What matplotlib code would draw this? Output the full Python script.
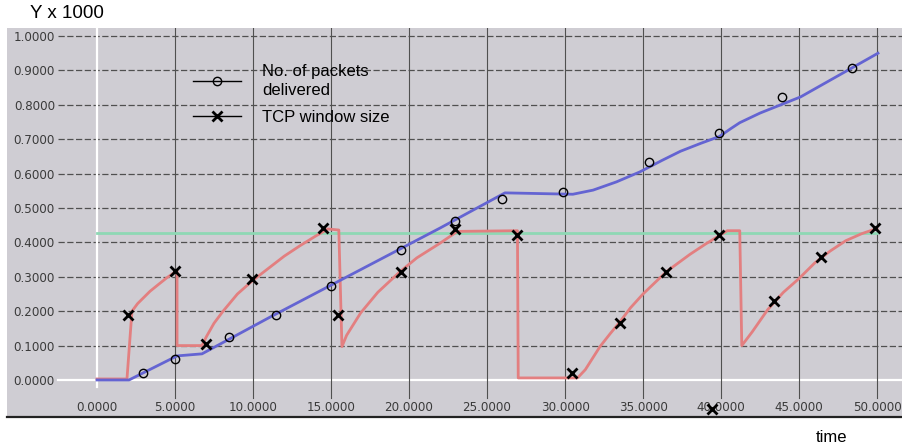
import matplotlib
matplotlib.use("Agg")
import matplotlib.pyplot as plt
from matplotlib.lines import Line2D

plt.rcParams['font.family'] = ['Liberation Sans', 'DejaVu Sans']

# packets delivered (line path)
delivered_t = [0.0, 2.05, 5.13, 6.73, 11.1, 22.0, 26.15, 30.5, 31.8, 33.3, 34.8, 36.2, 37.4,
               38.7, 39.9, 40.6, 41.2, 42.5, 45.1, 47.6, 50.06]
delivered_y = [0.0, 0.0, 0.07, 0.076, 0.183, 0.442, 0.544, 0.54, 0.552, 0.576, 0.605, 0.638, 0.665,
               0.688, 0.708, 0.73, 0.748, 0.776, 0.823, 0.887, 0.95]
# packets delivered (sample markers)
delivered_mark_t = [2.95, 5.0, 8.46, 11.5, 15.0, 19.5, 22.95, 25.96, 29.9, 35.4, 39.9, 43.9, 48.4]
delivered_mark_y = [0.02, 0.061, 0.125, 0.189, 0.273, 0.378, 0.462, 0.526, 0.547, 0.633, 0.717, 0.823, 0.907]

# TCP window size (line path)
window_t = [0.0, 1.92, 2.24, 2.6, 3.0, 3.4, 4.0, 4.5, 5.13,
            5.13, 6.73, 7.0, 7.5, 8.08, 9.0, 10.0, 11.0, 12.0, 13.0, 14.0, 14.8, 15.5,
            15.7, 16.0, 16.9, 18.0, 19.4, 20.5, 22.0, 23.1, 26.95,
            27.0, 30.8, 31.3, 32.24, 32.9, 33.5, 34.2, 35.0, 36.5, 38.0, 39.0, 39.9, 40.4, 41.2,
            41.33, 42.0, 43.0, 44.0, 45.0, 46.0, 47.0, 48.0, 49.0, 49.7, 50.0]
window_y = [0.003, 0.003, 0.2, 0.222, 0.24, 0.258, 0.28, 0.298, 0.318,
            0.1, 0.1, 0.125, 0.165, 0.2, 0.25, 0.29, 0.325, 0.36, 0.39, 0.418, 0.439, 0.436,
            0.097, 0.13, 0.195, 0.255, 0.314, 0.355, 0.398, 0.432, 0.434,
            0.006, 0.006, 0.03, 0.097, 0.135, 0.168, 0.21, 0.25, 0.315, 0.365, 0.395, 0.42, 0.434, 0.434,
            0.1, 0.14, 0.205, 0.255, 0.295, 0.34, 0.375, 0.405, 0.425, 0.436, 0.44]
# TCP window size (sample markers)
window_mark_t = [1.99, 5.0, 6.99, 9.94, 14.5, 15.45, 19.5, 22.95, 26.9, 30.45, 33.5, 36.5,
                 39.9, 39.4, 43.4, 46.4, 49.9]
window_mark_y = [0.189, 0.317, 0.105, 0.294, 0.442, 0.189, 0.314, 0.439, 0.421, 0.02, 0.167, 0.315,
                 0.421, -0.085, 0.23, 0.358, 0.442]

threshold_t = [0.0, 50.0]
threshold_y = [0.427, 0.427]

x_ticks = [0, 5, 10, 15, 20, 25, 30, 35, 40, 45, 50]
y_ticks = [0.0, 0.1, 0.2, 0.3, 0.4, 0.5, 0.6, 0.7, 0.8, 0.9, 1.0]

fig = plt.figure(figsize=(9.02, 4.46), dpi=100)
ax = fig.add_axes([7 / 902, 29 / 446, 895 / 902, 389 / 446])
ax.set_facecolor('#cfcdd3')
ax.set_xlim(-5.77, 51.6)
ax.set_ylim(-0.1076, 1.0233)

for s in ['left', 'right', 'top']:
    ax.spines[s].set_visible(False)
ax.spines['bottom'].set_color('#222222')
ax.spines['bottom'].set_linewidth(1.6)

# grid: dashed horizontals, solid verticals, white zero lines
for y in y_ticks:
    if y == 0:
        ax.axhline(y, xmin=0.057, xmax=1, color='white', lw=1.6, zorder=1)
    else:
        ax.axhline(y, xmin=0.057, xmax=1, color='#505050', lw=0.9, ls=(0, (5, 2)), zorder=1)
for x in x_ticks:
    if x == 0:
        ax.axvline(x, ymin=0.077, ymax=1, color='white', lw=1.6, zorder=1)
    else:
        ax.axvline(x, ymin=0.049, ymax=1, color='#505050', lw=0.8, zorder=1)

ax.set_xticks(x_ticks)
ax.set_xticklabels([f'{v:.4f}' for v in x_ticks])
ax.set_yticks(y_ticks)
ax.set_yticklabels([f'{v:.4f}' for v in y_ticks])
ax.tick_params(axis='both', length=0, labelsize=8.6, labelcolor='#3a3a3a')
ax.tick_params(axis='y', pad=-34.5)
ax.tick_params(axis='x', pad=-6.5)
for lab in ax.get_xticklabels() + ax.get_yticklabels():
    lab.set_family('DejaVu Sans')
for lab in ax.get_xticklabels():
    lab.set_va('center')

ax.plot(threshold_t, threshold_y, color='#8ed8b4', lw=2, zorder=2)
ax.plot(window_t, window_y, color='#e37f80', lw=2, zorder=3)
ax.plot(delivered_t, delivered_y, color='#6464d2', lw=2, zorder=4)
ax.plot(delivered_mark_t, delivered_mark_y, ls='none', marker='o', ms=6, mfc='none',
        mec='black', mew=1, zorder=5)
ax.plot(window_mark_t, window_mark_y, ls='none', marker='x', ms=6.5, mec='black',
        mew=2, zorder=5)

handles = [
    Line2D([], [], color='black', lw=1, marker='o', ms=6, mfc='none', mec='black'),
    Line2D([], [], color='black', lw=1, marker='x', ms=6.5, mec='black', mew=2),
]
leg = ax.legend(handles, ['No. of packets\ndelivered', 'TCP window size'], frameon=False,
                loc='upper left', bbox_to_anchor=(193 / 902, 1 - 64 / 446),
                bbox_transform=fig.transFigure, borderpad=0, borderaxespad=0,
                handlelength=2.9, handletextpad=1.25, labelspacing=0.75,
                prop={'family': 'Liberation Sans', 'size': 12})
for t in leg.get_texts():
    t.set_linespacing(1.3)

fig.text(30 / 902, 1 - 14 / 446, 'Y x 1000', fontsize=13.5, va='center', ha='left')
fig.text(832 / 902, 1 - 437 / 446, 'time', fontsize=12, va='center', ha='center')

fig.savefig('out.png', dpi=100)
